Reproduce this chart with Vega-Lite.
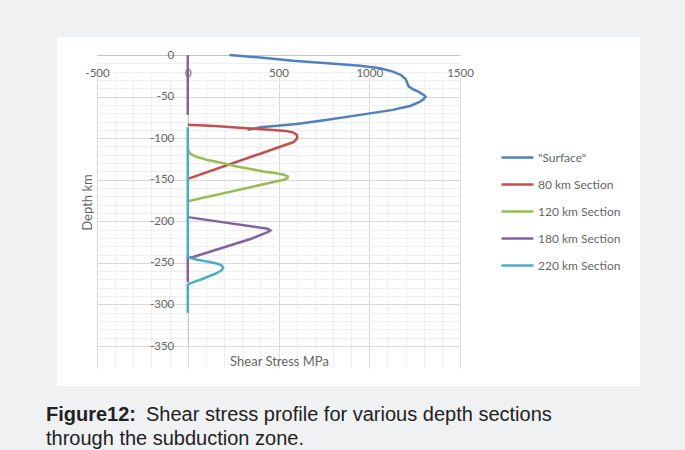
{
  "$schema": "https://vega.github.io/schema/vega-lite/v6.json",
  "background": "#f0f1f3",
  "autosize": {"type": "pad"},
  "padding": {"left": 46, "top": 37, "right": 50, "bottom": 6},
  "bounds": "flush",
  "spacing": 0,
  "title": {
    "text": "Shear stress profile for various depth sections",
    "orient": "bottom",
    "anchor": "start",
    "frame": "group",
    "dx": 89,
    "dy": -44,
    "offset": 0,
    "font": "Liberation Sans",
    "fontSize": 20,
    "fontWeight": "normal",
    "color": "#222222"
  },
  "vconcat": [
    {
      "width": 583,
      "height": 349,
      "view": {"fill": "white", "stroke": null},
      "title": {
        "text": "Figure12:",
        "subtitle": "through the subduction zone.",
        "orient": "bottom",
        "anchor": "start",
        "frame": "group",
        "dx": -11,
        "offset": 19,
        "font": "Liberation Sans",
        "fontSize": 20,
        "fontWeight": "bold",
        "color": "#222222",
        "subtitleFont": "Liberation Sans",
        "subtitleFontSize": 20,
        "subtitleFontWeight": "normal",
        "subtitleColor": "#222222",
        "subtitlePadding": 4
      },
      "data": {
        "values": [
          {"series": "\"Surface\"", "part": "a", "stress": 230, "depth": 0},
          {"series": "\"Surface\"", "part": "a", "stress": 400, "depth": -3},
          {"series": "\"Surface\"", "part": "a", "stress": 580, "depth": -7},
          {"series": "\"Surface\"", "part": "a", "stress": 770, "depth": -10},
          {"series": "\"Surface\"", "part": "a", "stress": 950, "depth": -13},
          {"series": "\"Surface\"", "part": "a", "stress": 1060, "depth": -16},
          {"series": "\"Surface\"", "part": "a", "stress": 1130, "depth": -20},
          {"series": "\"Surface\"", "part": "a", "stress": 1175, "depth": -24},
          {"series": "\"Surface\"", "part": "a", "stress": 1200, "depth": -29},
          {"series": "\"Surface\"", "part": "a", "stress": 1210, "depth": -34},
          {"series": "\"Surface\"", "part": "a", "stress": 1218, "depth": -38},
          {"series": "\"Surface\"", "part": "a", "stress": 1240, "depth": -41},
          {"series": "\"Surface\"", "part": "a", "stress": 1270, "depth": -44},
          {"series": "\"Surface\"", "part": "a", "stress": 1300, "depth": -48},
          {"series": "\"Surface\"", "part": "a", "stress": 1310, "depth": -50},
          {"series": "\"Surface\"", "part": "a", "stress": 1300, "depth": -53},
          {"series": "\"Surface\"", "part": "a", "stress": 1280, "depth": -56},
          {"series": "\"Surface\"", "part": "a", "stress": 1230, "depth": -61},
          {"series": "\"Surface\"", "part": "a", "stress": 1130, "depth": -66},
          {"series": "\"Surface\"", "part": "a", "stress": 950, "depth": -72},
          {"series": "\"Surface\"", "part": "a", "stress": 770, "depth": -78},
          {"series": "\"Surface\"", "part": "a", "stress": 600, "depth": -83},
          {"series": "\"Surface\"", "part": "a", "stress": 400, "depth": -87},
          {"series": "\"Surface\"", "part": "a", "stress": 330, "depth": -90},
          {"series": "80 km Section", "part": "a", "stress": 0, "depth": -84},
          {"series": "80 km Section", "part": "a", "stress": 150, "depth": -85.5},
          {"series": "80 km Section", "part": "a", "stress": 325, "depth": -88},
          {"series": "80 km Section", "part": "a", "stress": 450, "depth": -90},
          {"series": "80 km Section", "part": "a", "stress": 540, "depth": -91.5},
          {"series": "80 km Section", "part": "a", "stress": 580, "depth": -93},
          {"series": "80 km Section", "part": "a", "stress": 600, "depth": -96},
          {"series": "80 km Section", "part": "a", "stress": 604, "depth": -99},
          {"series": "80 km Section", "part": "a", "stress": 597, "depth": -102},
          {"series": "80 km Section", "part": "a", "stress": 580, "depth": -105},
          {"series": "80 km Section", "part": "a", "stress": 0, "depth": -149},
          {"series": "120 km Section", "part": "a", "stress": 0, "depth": -110},
          {"series": "120 km Section", "part": "a", "stress": 2, "depth": -114},
          {"series": "120 km Section", "part": "a", "stress": 10, "depth": -118},
          {"series": "120 km Section", "part": "a", "stress": 40, "depth": -122},
          {"series": "120 km Section", "part": "a", "stress": 104, "depth": -126},
          {"series": "120 km Section", "part": "a", "stress": 190, "depth": -130},
          {"series": "120 km Section", "part": "a", "stress": 270, "depth": -134},
          {"series": "120 km Section", "part": "a", "stress": 345, "depth": -137},
          {"series": "120 km Section", "part": "a", "stress": 415, "depth": -140},
          {"series": "120 km Section", "part": "a", "stress": 480, "depth": -142},
          {"series": "120 km Section", "part": "a", "stress": 530, "depth": -144},
          {"series": "120 km Section", "part": "a", "stress": 552, "depth": -146},
          {"series": "120 km Section", "part": "a", "stress": 550, "depth": -148},
          {"series": "120 km Section", "part": "a", "stress": 528, "depth": -150},
          {"series": "120 km Section", "part": "a", "stress": 0, "depth": -176},
          {"series": "180 km Section", "part": "a", "stress": 0, "depth": 0},
          {"series": "180 km Section", "part": "a", "stress": 0, "depth": -72},
          {"series": "180 km Section", "part": "b", "stress": 0, "depth": -195},
          {"series": "180 km Section", "part": "b", "stress": 440, "depth": -209},
          {"series": "180 km Section", "part": "b", "stress": 455, "depth": -211},
          {"series": "180 km Section", "part": "b", "stress": 440, "depth": -213},
          {"series": "180 km Section", "part": "b", "stress": 350, "depth": -221},
          {"series": "180 km Section", "part": "b", "stress": 30, "depth": -243},
          {"series": "180 km Section", "part": "b", "stress": 0, "depth": -244.5},
          {"series": "180 km Section", "part": "b", "stress": 0, "depth": -273},
          {"series": "220 km Section", "part": "a", "stress": 0, "depth": -87},
          {"series": "220 km Section", "part": "a", "stress": 0, "depth": -243},
          {"series": "220 km Section", "part": "a", "stress": 20, "depth": -244.5},
          {"series": "220 km Section", "part": "a", "stress": 60, "depth": -246.5},
          {"series": "220 km Section", "part": "a", "stress": 120, "depth": -249},
          {"series": "220 km Section", "part": "a", "stress": 165, "depth": -251},
          {"series": "220 km Section", "part": "a", "stress": 185, "depth": -253},
          {"series": "220 km Section", "part": "a", "stress": 195, "depth": -255.5},
          {"series": "220 km Section", "part": "a", "stress": 188, "depth": -258.5},
          {"series": "220 km Section", "part": "a", "stress": 160, "depth": -262.5},
          {"series": "220 km Section", "part": "a", "stress": 90, "depth": -268.5},
          {"series": "220 km Section", "part": "a", "stress": 40, "depth": -272.5},
          {"series": "220 km Section", "part": "a", "stress": 10, "depth": -275},
          {"series": "220 km Section", "part": "a", "stress": 0, "depth": -276},
          {"series": "220 km Section", "part": "a", "stress": 0, "depth": -310}
        ]
      },
      "mark": {"type": "line", "strokeWidth": 2.5, "clip": false},
      "encoding": {
        "x": {
          "field": "stress",
          "type": "quantitative",
          "scale": {"domain": [-500, 1500], "range": [40, 403], "nice": false, "zero": false},
          "axis": {
            "orient": "bottom",
            "offset": -331,
            "values": [-500, -400, -300, -200, -100, 0, 100, 200, 300, 400, 500, 600, 700, 800, 900, 1000, 1100, 1200, 1300, 1400, 1500],
            "labelExpr": "datum.value % 500 === 0 ? toString(datum.value) : ''",
            "labelOverlap": false,
            "labelFlush": false,
            "labelBound": false,
            "grid": true,
            "gridColor": {"condition": {"test": "datum.value % 500 === 0", "value": "#d9d9d9"}, "value": "#eeeeee"},
            "gridWidth": 1,
            "ticks": false,
            "tickSize": 0,
            "domainColor": "#c4c4c4",
            "labelPadding": 12,
            "labelFont": "Lato",
            "labelFontSize": 11.5,
            "labelColor": "#666666",
            "title": "Shear Stress MPa",
            "titleX": 222,
            "titleY": 306,
            "titleAlign": "center",
            "titleBaseline": "middle",
            "titleFont": "Lato",
            "titleFontSize": 13,
            "titleFontWeight": "normal",
            "titleColor": "#666666"
          }
        },
        "y": {
          "field": "depth",
          "type": "quantitative",
          "scale": {"domain": [-350, 0], "range": [309, 18], "nice": false, "zero": false},
          "axis": {
            "orient": "left",
            "offset": -130.75,
            "values": [-350, -340, -330, -320, -310, -300, -290, -280, -270, -260, -250, -240, -230, -220, -210, -200, -190, -180, -170, -160, -150, -140, -130, -120, -110, -100, -90, -80, -70, -60, -50, -40, -30, -20, -10, 0],
            "labelExpr": "datum.value % 50 === 0 ? toString(datum.value) : ''",
            "labelOverlap": false,
            "labelFlush": false,
            "labelBound": false,
            "grid": true,
            "gridColor": {"condition": {"test": "datum.value % 50 === 0", "value": "#d9d9d9"}, "value": "#eeeeee"},
            "gridWidth": 1,
            "ticks": false,
            "tickSize": 0,
            "domainColor": "#c4c4c4",
            "labelPadding": 14,
            "labelFont": "Lato",
            "labelFontSize": 11.5,
            "labelColor": "#666666",
            "title": "Depth km",
            "titleX": -100,
            "titleY": 165,
            "titleAngle": -90,
            "titleAlign": "center",
            "titleBaseline": "middle",
            "titleFont": "Lato",
            "titleFontSize": 13,
            "titleFontWeight": "normal",
            "titleColor": "#666666"
          }
        },
        "color": {
          "field": "series",
          "type": "nominal",
          "scale": {
            "domain": ["\"Surface\"", "80 km Section", "120 km Section", "180 km Section", "220 km Section"],
            "range": ["#4F81BD", "#C0504D", "#9BBB59", "#8064A2", "#4BACC6"]
          },
          "legend": {
            "orient": "none",
            "legendX": 443,
            "legendY": 103,
            "title": null,
            "padding": 0,
            "symbolType": "stroke",
            "symbolSize": 1024,
            "symbolStrokeWidth": 2.5,
            "rowPadding": 3,
            "labelOffset": 3,
            "labelFont": "Lato",
            "labelFontSize": 12,
            "labelColor": "#666666"
          }
        },
        "detail": {"field": "part"},
        "order": {"field": "depth", "sort": "descending"}
      }
    }
  ],
  "config": {
    "view": {"stroke": null},
    "font": "Lato"
  }
}
